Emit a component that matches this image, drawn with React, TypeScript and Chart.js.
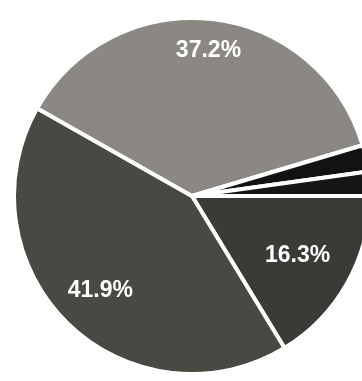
import React, { useEffect, useRef } from "react";
import { Chart, registerables } from "chart.js";

Chart.register(...registerables);

const categories = ["C", "A", "B", "D", "E"];
const values = [16.3, 41.9, 37.2, 2.4, 2.2];
const labels = ["16.3%", "41.9%", "37.2%", "", ""];

const colors = ["#3c3a37", "#4a4843", "#8b8783", "#121212", "#161616"];
const labelRadius = [0.68, 0.74, 0.82, 0.7, 0.7];

const labelPlugin = {
  id: "sliceLabels",
  afterDatasetsDraw(chart: any) {
    const ctx = chart.ctx;
    const meta = chart.getDatasetMeta(0);
    ctx.save();
    ctx.fillStyle = "#ffffff";
    ctx.font = "bold 23px 'Liberation Sans', Arial, sans-serif";
    ctx.textAlign = "center";
    ctx.textBaseline = "middle";
    meta.data.forEach((arc: any, i: number) => {
      const text = labels[i];
      if (!text) return;
      const p = arc.getProps(["x", "y", "startAngle", "endAngle", "outerRadius"], true);
      const mid = (p.startAngle + p.endAngle) / 2;
      const r = p.outerRadius * labelRadius[i];
      ctx.fillText(text, p.x + Math.cos(mid) * r, p.y + Math.sin(mid) * r);
    });
    ctx.restore();
  },
};

export default function App() {
  const ref = useRef<HTMLCanvasElement>(null);
  useEffect(() => {
    if (!ref.current) return;
    const chart = new Chart(ref.current, {
      type: "pie",
      data: {
        labels: categories,
        datasets: [
          {
            data: values,
            backgroundColor: colors,
            borderColor: "#ffffff",
            borderWidth: 4,
          },
        ],
      },
      options: {
        responsive: false,
        animation: false,
        rotation: 90,
        layout: { padding: 0 },
        plugins: {
          legend: { display: false },
          tooltip: { enabled: false },
        },
      },
      plugins: [labelPlugin],
    });
    return () => chart.destroy();
  }, []);

  return (
    <div
      style={{
        position: "fixed",
        left: 0,
        top: 0,
        width: 362,
        height: 381,
        overflow: "hidden",
        background: "#ffffff",
      }}
    >
      <canvas
        ref={ref}
        width={360}
        height={360}
        style={{ position: "absolute", left: 12, top: 16, width: 360, height: 360 }}
      />
    </div>
  );
}
